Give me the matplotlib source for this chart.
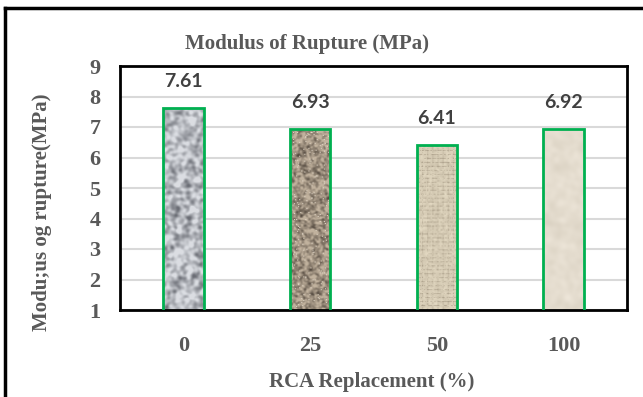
import numpy as np
import matplotlib.pyplot as plt
from matplotlib.lines import Line2D

# modulus of rupture for each RCA replacement level
replacement = ["0", "25", "50", "100"]
rupture = [7.61, 6.93, 6.41, 6.92]

serif = "Liberation Serif"
grey = "#595959"

rng = np.random.default_rng(3)


def blur(a, k):
    # cheap gaussian-ish blur through the fft
    ny, nx = a.shape
    fy = np.fft.fftfreq(ny)[:, None]
    fx = np.fft.fftfreq(nx)[None, :]
    g = np.exp(-(fx ** 2 + fy ** 2) * (2 * np.pi * k) ** 2 / 2)
    return np.real(np.fft.ifft2(np.fft.fft2(a) * g))


def norm(a):
    return (a - a.min()) / (a.max() - a.min())


def mix(n, light, dark):
    light = np.array(light)
    dark = np.array(dark)
    return light[None, None, :] * (1 - n[..., None]) + dark[None, None, :] * n[..., None]


def granite(h, w):
    n = norm(blur(rng.random((h, w)), 1.5))
    n = np.clip((n - 0.3) * 1.6, 0, 1)
    return mix(n, (0.86, 0.87, 0.89), (0.42, 0.43, 0.46))


def gravel(h, w):
    n = norm(blur(rng.random((h, w)), 0.9))
    n = np.clip((n - 0.3) * 1.6, 0, 1)
    img = mix(n, (0.76, 0.70, 0.62), (0.33, 0.29, 0.25))
    spark = rng.random((h, w)) > 0.97
    img[spark] = (0.9, 0.86, 0.8)
    return img


def burlap(h, w):
    n = norm(blur(rng.random((h, w)), 0.8)) * 0.3
    yy, xx = np.mgrid[0:h, 0:w]
    weave = ((yy % 4 == 0) * 0.3 + (xx % 5 == 0) * 0.18) * (rng.random((h, w)) > 0.4)
    n = np.clip(n + weave, 0, 1)
    return mix(n, (0.90, 0.86, 0.77), (0.55, 0.50, 0.42))


def paper(h, w):
    n = norm(blur(rng.random((h, w)), 2.5)) * 0.3
    return mix(n, (0.93, 0.90, 0.85), (0.70, 0.66, 0.58))


textures = [granite, gravel, burlap, paper]

fig = plt.figure(figsize=(6.43, 3.97), dpi=100)
ax = fig.add_axes([120 / 643, 87 / 397, 507 / 643, 244 / 397])

ax.set_xlim(-0.5, 3.5)
ax.set_ylim(1, 9)

x = np.arange(len(replacement))
bars = ax.bar(x, rupture, width=0.32, facecolor="none", edgecolor="#00b050",
              linewidth=2, zorder=3)

# fill each bar with its own aggregate texture
y0 = ax.get_ylim()[0]
for b, tex in zip(bars, textures):
    bx, w, h = b.get_x(), b.get_width(), b.get_height()
    img = tex(int((h - y0) * 31), int(w * 127))
    im = ax.imshow(img, extent=(bx, bx + w, y0, h), origin="lower",
                   aspect="auto", interpolation="bilinear", zorder=2)
    im.set_clip_path(b)

for xi, v in zip(x, rupture):
    ax.text(xi, v + 0.87, f"{v:.2f}", ha="center", va="center", fontsize=14,
            fontweight="bold", family="Lato", color="#404040")

ax.set_yticks(range(1, 10))
ax.set_xticks(x)
ax.set_xticklabels(replacement)
ax.yaxis.grid(True, color="#d9d9d9", linewidth=1.5, zorder=0)
ax.set_axisbelow(True)
ax.tick_params(length=0, labelsize=16, labelcolor=grey)
ax.tick_params(axis="y", pad=14)
ax.tick_params(axis="x", pad=19)
for lab in ax.get_xticklabels() + ax.get_yticklabels():
    lab.set_family(serif)
    lab.set_fontweight("bold")
for s in ax.spines.values():
    s.set_linewidth(2)
    s.set_color("black")

fig.text(185 / 643, 1 - 44 / 397, "Modulus of Rupture (MPa)", ha="left",
         va="center", fontsize=15, fontweight="bold", family=serif, color=grey)
fig.text(372 / 643, 1 - 382 / 397, "RCA Replacement (%)", ha="center",
         va="center", fontsize=15, fontweight="bold", family=serif, color=grey)
fig.text(42 / 643, 1 - 212 / 397, "Modu;us og rupture(MPa)", ha="center",
         va="center", rotation=90, fontsize=15, fontweight="bold", family=serif,
         color=grey)

# outer frame, left and top edges only
fig.add_artist(Line2D([5 / 643, 5 / 643], [0, 1 - 8 / 397], color="black", lw=2.5))
fig.add_artist(Line2D([5 / 643, 1], [1 - 8 / 397, 1 - 8 / 397], color="black", lw=2.5))

fig.savefig("out.png", dpi=100)
